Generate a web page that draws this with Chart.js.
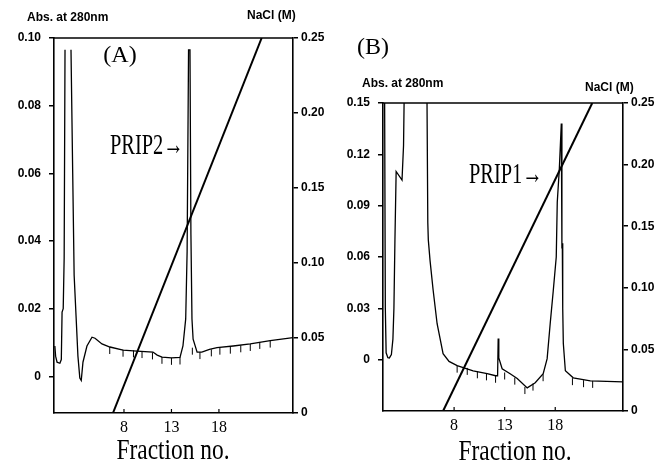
<!DOCTYPE html>
<html>
<head>
<meta charset="utf-8">
<script src="https://cdn.jsdelivr.net/npm/chart.js@4.4.0/dist/chart.umd.min.js"></script>
<style>
    html, body { margin: 0; padding: 0; background: #fff; }
    body { width: 669px; height: 464px; position: relative; overflow: hidden; }
    canvas { position: absolute; top: 0; }
    #chart-a { left: 0; }
    #chart-b { left: 335px; }
</style>
</head>
<body>
<canvas id="chart-a" width="335" height="464"></canvas>
<canvas id="chart-b" width="334" height="464"></canvas>
<script>
/**
 * Ion-exchange elution profiles (A) PRIP2 and (B) PRIP1
 * Absorbance trace on the left axis, NaCl gradient on the right axis
 */

// Shared x-axis tick labels (fraction numbers)
const FRACTION_TICKS = [8, 13, 18];
const NACL_TICKS = [0, 0.05, 0.10, 0.15, 0.20, 0.25];

// Panel A: absorbance trace (null = recorder off scale)
const fracA = [0.72, 0.8, 0.95, 1.25, 1.4, 1.48, 1.6, 1.7, 1.79, 2.1, 2.42, 2.6, 2.75, 2.95, 3.15, 3.35, 3.5,
    3.68, 4.1, 4.63, 4.95, 5.68, 6.52, 7.9, 9.37, 11.05, 11.5, 12.0, 13.0, 13.9, 14.21, 14.5, 14.65, 14.8,
    14.95, 15.05, 15.16, 15.28, 15.7, 16.2, 17.0, 17.8, 19.5, 21.3, 23.4, 25.8];
const absA = [0.0090, 0.0060, 0.0042, 0.0039, 0.0050, 0.0190, 0.0200, 0.0350, 0.0965, null, 0.0965, 0.060, 0.030, 0.018, 0.006, -0.0005, -0.0012,
    0.0042, 0.0090, 0.0116, 0.0113, 0.0096, 0.0087, 0.0078, 0.0075, 0.0072, 0.0063, 0.0057, 0.0055, 0.0056, 0.0090, 0.0170, 0.0370, 0.0965,
    0.0965, 0.0420, 0.0170, 0.0110, 0.0072, 0.0072, 0.0080, 0.0085, 0.0090, 0.0096, 0.0106, 0.0115];
// Panel A: NaCl gradient end points
const naclFracA = [6.84, 22.5];
const naclA = [0, 0.25];
// Panel A: fraction collector marks hanging from the trace
const markFracA = [6.5, 7.9, 9.0, 9.9, 11.0, 12.0, 13.0, 13.9, 15.2, 16.0, 17.2, 18.1, 19.2, 20.3, 21.3, 22.3, 23.4];
const markAbsA = [0.0087, 0.0079, 0.0077, 0.0075, 0.0071, 0.0058, 0.0055, 0.0056, 0.0085, 0.0072, 0.0080, 0.0085, 0.0088, 0.0092, 0.0096, 0.0102, 0.0106];
const absTicksA = [0, 0.02, 0.04, 0.06, 0.08, 0.10];

// Panel B: absorbance trace (values above 0.15 are off scale)
const fracB = [1.12, 1.2, 1.28, 1.45, 1.6, 1.8, 1.95, 2.05, 2.15, 2.27, 2.85, 3.0, 3.1, 5.3, 5.4, 5.45, 5.62,
    5.92, 6.32, 6.91, 7.5, 8.3, 9.88, 11.27, 12.1, 12.3, 12.36, 12.42, 12.75, 13.54, 14.24, 15.23, 16.02,
    16.81, 17.2, 17.5, 17.8, 18.1, 18.2, 18.4, 18.6, 18.66, 18.7, 18.74, 18.8, 19.0, 19.78, 21.47, 24.7];
const absB = [0.170, 0.030, 0.004, 0.0012, 0.0010, 0.0030, 0.012, 0.030, 0.070, 0.110, 0.105, 0.125, 0.170, 0.170, 0.080, 0.070, 0.058,
    0.041, 0.021, 0.0035, -0.0010, -0.0035, -0.0065, -0.0082, -0.0094, -0.0094, 0.0123, 0.0010, -0.0053, -0.0082, -0.0110, -0.0165, -0.0135,
    -0.0082, 0.0006, 0.021, 0.040, 0.060, 0.092, 0.111, 0.138, 0.065, 0.068, 0.030, 0.0094, -0.0065, -0.0106, -0.0124, -0.0130];
const naclFracB = [6.91, 21.66];
const naclB = [0, 0.25];
const markFracB = [8.3, 9.3, 10.3, 11.2, 12.1, 13.0, 14.0, 15.0, 15.8, 16.8, 19.7, 20.8, 21.7];
const markAbsB = [-0.0035, -0.0048, -0.0068, -0.0080, -0.0094, -0.0075, -0.0105, -0.0160, -0.0140, -0.0085, -0.0108, -0.0120, -0.0124];
const absTicksB = [0, 0.03, 0.06, 0.09, 0.12, 0.15];

const SANS_BOLD = 'bold 12px "Liberation Sans", Arial, sans-serif';

/**
 * Zip two parallel arrays into {x, y} points for a linear x scale
 */
function toPoints(xs, ys) {
    return xs.map((x, i) => ({ x: x, y: ys[i] }));
}

/**
 * Draw a text, optionally squeezed horizontally (the scanned figure uses a condensed face)
 */
function drawText(ctx, t) {
    ctx.save();
    ctx.font = t.font;
    ctx.fillStyle = '#000';
    ctx.textAlign = t.align || 'left';
    ctx.textBaseline = 'middle';
    ctx.translate(t.x, t.y);
    ctx.scale(t.sx || 1, 1);
    ctx.fillText(t.text, 0, 0);
    ctx.restore();
}

/**
 * Per-panel decorations: top frame line, inner x ticks, fraction marks and labels
 */
function makeDecor(panel) {
    return {
        id: 'decor',
        afterDraw(chart) {
            const ctx = chart.ctx;
            const area = chart.chartArea;
            const x = chart.scales.x;
            const y = chart.scales.y;

            ctx.save();
            ctx.strokeStyle = '#000';

            // top frame line
            ctx.lineWidth = 1.6;
            ctx.beginPath();
            ctx.moveTo(area.left, area.top);
            ctx.lineTo(area.right, area.top);
            ctx.stroke();

            // small inward ticks on the fraction axis
            ctx.lineWidth = 1.2;
            FRACTION_TICKS.forEach(v => {
                const px = x.getPixelForValue(v);
                ctx.beginPath();
                ctx.moveTo(px, area.bottom);
                ctx.lineTo(px, area.bottom - 4);
                ctx.stroke();
            });

            // fraction collector marks
            ctx.lineWidth = 1;
            panel.markFrac.forEach((f, i) => {
                const px = x.getPixelForValue(f);
                const py = y.getPixelForValue(panel.markAbs[i]);
                ctx.beginPath();
                ctx.moveTo(px, py);
                ctx.lineTo(px, py + 7);
                ctx.stroke();
            });
            ctx.restore();

            panel.texts.forEach(t => drawText(ctx, t));
        }
    };
}

/**
 * Build one elution panel
 */
function initPanel(canvasId, panel) {
    const ctx = document.getElementById(canvasId).getContext('2d');

    return new Chart(ctx, {
        type: 'line',
        data: {
            datasets: [{
                label: 'Abs. at 280nm',
                data: toPoints(panel.frac, panel.abs),
                yAxisID: 'y',
                borderColor: '#000',
                borderWidth: 1.3,
                pointRadius: 0,
                tension: 0,
                spanGaps: false
            }, {
                label: 'NaCl (M)',
                data: toPoints(panel.naclFrac, panel.nacl),
                yAxisID: 'y1',
                borderColor: '#000',
                borderWidth: 2,
                pointRadius: 0,
                tension: 0
            }]
        },
        options: {
            responsive: false,
            animation: false,
            devicePixelRatio: 1,
            layout: {
                padding: { top: panel.top, left: 0, right: 0, bottom: 0 }
            },
            plugins: {
                legend: { display: false },
                tooltip: { enabled: false }
            },
            scales: {
                x: {
                    type: 'linear',
                    min: panel.xMin,
                    max: panel.xMax,
                    afterBuildTicks: s => { s.ticks = FRACTION_TICKS.map(v => ({ value: v })); },
                    afterFit: s => { s.height = panel.xHeight; },
                    grid: { display: true, drawOnChartArea: false, drawTicks: false },
                    border: { display: true, color: '#000', width: 1.6 },
                    ticks: {
                        color: '#000',
                        padding: 5,
                        maxRotation: 0,
                        autoSkip: false,
                        font: { family: '"Liberation Serif", serif', size: 16 },
                        callback: v => String(v)
                    }
                },
                y: {
                    position: 'left',
                    min: panel.absMin,
                    max: panel.absMax,
                    afterBuildTicks: s => { s.ticks = panel.absTicks.map(v => ({ value: v })); },
                    afterFit: s => { s.width = panel.leftWidth; },
                    grid: { drawOnChartArea: false, drawTicks: true, tickLength: 5, color: '#000', lineWidth: 1.5 },
                    border: { display: true, color: '#000', width: 1.6 },
                    ticks: {
                        color: '#000',
                        padding: 8,
                        font: { family: '"Liberation Sans", Arial, sans-serif', size: 12, weight: 'bold' },
                        callback: v => v === 0 ? '0' : v.toFixed(2)
                    }
                },
                y1: {
                    position: 'right',
                    min: 0,
                    max: 0.25,
                    afterBuildTicks: s => { s.ticks = NACL_TICKS.map(v => ({ value: v })); },
                    afterFit: s => { s.width = panel.rightWidth; },
                    grid: { drawOnChartArea: false, drawTicks: true, tickLength: 5, color: '#000', lineWidth: 1.5 },
                    border: { display: true, color: '#000', width: 1.6 },
                    ticks: {
                        color: '#000',
                        padding: 3,
                        font: { family: '"Liberation Sans", Arial, sans-serif', size: 12, weight: 'bold' },
                        callback: v => v === 0 ? '0' : v.toFixed(2)
                    }
                }
            }
        },
        plugins: [makeDecor(panel)]
    });
}

initPanel('chart-a', {
    frac: fracA, abs: absA, naclFrac: naclFracA, nacl: naclA,
    markFrac: markFracA, markAbs: markAbsA, absTicks: absTicksA,
    xMin: 0.63, xMax: 25.8, absMin: -0.0108, absMax: 0.10,
    top: 38, leftWidth: 54, rightWidth: 42, xHeight: 51,
    texts: [
        { text: 'Abs. at 280nm', x: 27, y: 18, font: SANS_BOLD },
        { text: 'NaCl (M)', x: 247, y: 16, font: SANS_BOLD },
        { text: '(A)', x: 120, y: 56, align: 'center', font: '24px "Liberation Serif", serif' },
        { text: 'PRIP2\u2192', x: 110, y: 146, sx: 0.68, font: '30px "Liberation Serif", serif' },
        { text: 'Fraction no.', x: 173, y: 451, align: 'center', sx: 0.78, font: '30px "Liberation Serif", serif' }
    ]
});

initPanel('chart-b', {
    frac: fracB, abs: absB, naclFrac: naclFracB, nacl: naclB,
    markFrac: markFracB, markAbs: markAbsB, absTicks: absTicksB,
    xMin: 0.97, xMax: 24.7, absMin: -0.03, absMax: 0.15,
    top: 103, leftWidth: 48, rightWidth: 46, xHeight: 53,
    texts: [
        { text: 'Abs. at 280nm', x: 27, y: 84, font: SANS_BOLD },
        { text: 'NaCl (M)', x: 250, y: 88, font: SANS_BOLD },
        { text: '(B)', x: 38, y: 48, align: 'center', font: '24px "Liberation Serif", serif' },
        { text: 'PRIP1\u2192', x: 134, y: 175, sx: 0.68, font: '30px "Liberation Serif", serif' },
        { text: 'Fraction no.', x: 180, y: 452, align: 'center', sx: 0.78, font: '30px "Liberation Serif", serif' }
    ]
});
</script>
</body>
</html>
